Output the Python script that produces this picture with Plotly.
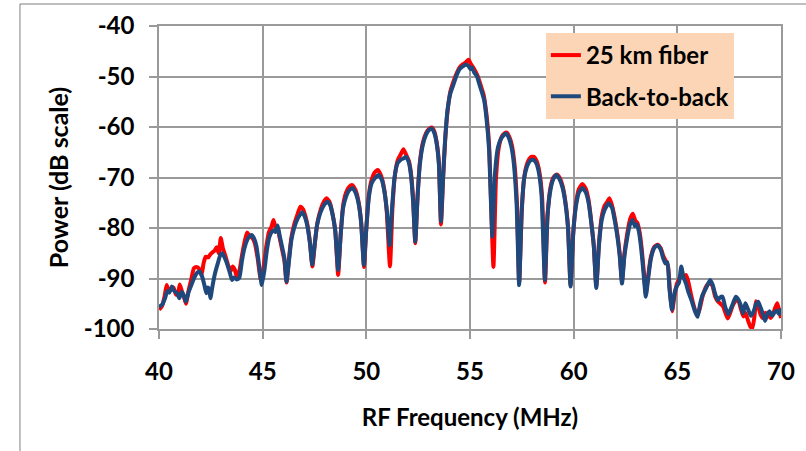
import plotly.graph_objects as go

# ---- data ----
freq_b2b = [40.00, 40.15, 40.30, 40.40, 40.50, 40.62, 40.72, 40.87, 40.98, 41.10, 41.20, 41.30, 41.42, 41.55, 41.70,
            41.85, 41.95, 42.08, 42.20, 42.28, 42.36, 42.42, 42.48, 42.58, 42.70, 42.85, 42.97, 43.05, 43.18, 43.30,
            43.42, 43.52, 43.62, 43.75, 43.87, 44.00, 44.12, 44.25, 44.38, 44.47, 44.58, 44.70, 44.80, 44.96, 45.08,
            45.20, 45.32, 45.45, 45.55, 45.62, 45.72, 45.82, 45.95, 46.05, 46.15, 46.27, 46.38, 46.52, 46.68, 46.80,
            46.92, 47.05, 47.15, 47.28, 47.39, 47.50, 47.62, 47.78, 47.95, 48.12, 48.25, 48.38, 48.50, 48.64, 48.76,
            48.88, 49.02, 49.18, 49.35, 49.50, 49.62, 49.75, 49.88, 50.00, 50.12, 50.25, 50.40, 50.60, 50.75, 50.88,
            51.00, 51.12, 51.24, 51.36, 51.50, 51.65, 51.80, 51.92, 52.05, 52.15, 52.26, 52.36, 52.47, 52.58, 52.72,
            52.88, 53.02, 53.15, 53.28, 53.40, 53.50, 53.60, 53.70, 53.80, 53.92, 54.05, 54.20, 54.35, 54.50, 54.65,
            54.80, 54.92, 55.02, 55.10, 55.20, 55.32, 55.45, 55.58, 55.68, 55.80, 55.92, 56.08, 56.20, 56.35, 56.50,
            56.65, 56.75, 56.88, 57.00, 57.12, 57.25, 57.37, 57.50, 57.62, 57.78, 57.92, 58.06, 58.20, 58.32, 58.45,
            58.61, 58.74, 58.88, 59.02, 59.16, 59.30, 59.45, 59.58, 59.72, 59.85, 59.98, 60.10, 60.25, 60.42, 60.58,
            60.72, 60.85, 60.97, 61.09, 61.22, 61.35, 61.50, 61.69, 61.85, 61.98, 62.10, 62.22, 62.33, 62.45, 62.58,
            62.70, 62.83, 62.95, 63.05, 63.15, 63.25, 63.36, 63.48, 63.60, 63.72, 63.88, 64.05, 64.20, 64.32, 64.42,
            64.52, 64.62, 64.74, 64.86, 64.98, 65.08, 65.19, 65.30, 65.42, 65.52, 65.68, 65.86, 65.98, 66.10, 66.22,
            66.40, 66.58, 66.70, 66.82, 66.95, 67.05, 67.18, 67.30, 67.45, 67.55, 67.68, 67.82, 67.95, 68.05, 68.17,
            68.28, 68.40, 68.55, 68.68, 68.80, 68.90, 69.02, 69.12, 69.23, 69.35, 69.45, 69.58, 69.70, 69.80, 69.90,
            70.00]
power_b2b = [-95.6, -95.2, -93.8, -92.5, -92.8, -91.6, -92.4, -92.9, -93.9, -92.6, -93.4, -94.6, -92.8, -91.4, -89.8,
             -88.8, -88.6, -89.6, -91.5, -92.9, -91.8, -92.2, -93.9, -91.5, -89.0, -86.8, -85.2, -85.0, -86.0, -87.3,
             -88.9, -90.3, -89.8, -90.2, -89.9, -86.5, -84.0, -82.4, -81.6, -81.4, -82.0, -83.6, -86.5, -91.3, -88.5,
             -84.5, -81.8, -80.7, -80.5, -80.8, -79.5, -81.5, -84.0, -86.0, -90.6, -86.5, -82.5, -80.0, -78.2, -77.4,
             -76.9, -78.0, -79.5, -83.0, -87.3, -83.5, -79.5, -77.0, -75.5, -74.8, -75.4, -77.5, -80.5, -88.3, -81.5,
             -76.0, -73.8, -72.5, -72.1, -73.2, -75.0, -79.0, -87.3, -80.0, -74.0, -71.2, -70.2, -69.5, -70.5, -73.0,
             -77.0, -83.4, -76.0, -70.0, -67.2, -66.5, -66.2, -65.9, -67.0, -69.5, -75.0, -82.7, -74.0, -67.5, -63.6,
             -61.5, -60.6, -60.3, -61.2, -63.5, -67.5, -78.7, -70.0, -62.5, -56.5, -53.4, -51.6, -49.8, -48.5, -48.0,
             -47.6, -47.9, -48.5, -48.2, -49.2, -49.8, -51.5, -53.2, -54.6, -58.5, -64.5, -81.7, -69.5, -64.0, -62.3,
             -61.5, -61.3, -62.2, -64.0, -67.5, -75.5, -91.3, -76.0, -70.0, -67.5, -66.6, -66.5, -67.2, -69.0, -73.5,
             -90.3, -77.5, -72.5, -70.3, -69.5, -70.2, -71.8, -74.5, -79.5, -91.6, -81.0, -76.0, -73.0, -72.1, -72.9,
             -75.0, -79.0, -83.5, -91.9, -83.5, -78.5, -76.3, -75.1, -76.0, -78.5, -81.5, -85.5, -91.0, -85.5, -82.0,
             -79.5, -78.4, -79.6, -79.3, -80.8, -83.8, -88.5, -93.6, -89.8, -86.2, -84.0, -83.4, -84.3, -86.0, -87.0,
             -86.8, -92.0, -96.2, -92.9, -91.5, -90.8, -87.6, -89.8, -91.0, -92.5, -94.3, -96.6, -97.6, -95.0, -93.2,
             -91.8, -90.3, -91.2, -93.0, -94.3, -93.8, -93.6, -95.5, -97.1, -96.3, -95.0, -93.6, -94.2, -95.2, -96.9,
             -94.9, -96.0, -97.4, -96.5, -95.0, -94.6, -95.8, -97.0, -98.4, -97.0, -96.5, -97.4, -96.6, -96.4, -97.0,
             -95.9]

freq_fiber = [40.00, 40.15, 40.27, 40.37, 40.48, 40.58, 40.70, 40.82, 40.92, 41.00, 41.10, 41.20, 41.30, 41.42, 41.55,
              41.68, 41.80, 41.92, 42.05, 42.15, 42.25, 42.38, 42.48, 42.58, 42.68, 42.78, 42.88, 42.98, 43.08, 43.20,
              43.32, 43.45, 43.55, 43.65, 43.77, 43.90, 44.02, 44.14, 44.25, 44.38, 44.50, 44.62, 44.75, 44.92, 45.05,
              45.18, 45.30, 45.42, 45.52, 45.62, 45.72, 45.82, 45.95, 46.05, 46.15, 46.27, 46.38, 46.52, 46.68, 46.82,
              46.95, 47.05, 47.15, 47.28, 47.40, 47.52, 47.64, 47.80, 47.95, 48.08, 48.22, 48.36, 48.50, 48.64, 48.76,
              48.88, 49.02, 49.18, 49.32, 49.48, 49.62, 49.75, 49.89, 50.00, 50.12, 50.25, 50.40, 50.55, 50.70, 50.85,
              50.98, 51.14, 51.26, 51.38, 51.52, 51.65, 51.79, 51.92, 52.05, 52.15, 52.26, 52.36, 52.47, 52.58, 52.72,
              52.88, 53.02, 53.15, 53.28, 53.40, 53.50, 53.60, 53.70, 53.80, 53.92, 54.05, 54.20, 54.35, 54.50, 54.65,
              54.80, 54.93, 55.05, 55.15, 55.25, 55.38, 55.52, 55.65, 55.78, 55.92, 56.13, 56.25, 56.38, 56.52, 56.65,
              56.78, 56.90, 57.02, 57.15, 57.27, 57.37, 57.50, 57.62, 57.78, 57.92, 58.08, 58.22, 58.35, 58.48, 58.62,
              58.74, 58.88, 59.02, 59.18, 59.32, 59.46, 59.60, 59.73, 59.85, 59.98, 60.10, 60.25, 60.42, 60.58, 60.72,
              60.85, 60.97, 61.09, 61.22, 61.35, 61.50, 61.62, 61.72, 61.85, 61.98, 62.10, 62.22, 62.33, 62.45, 62.58,
              62.72, 62.85, 62.97, 63.07, 63.18, 63.28, 63.38, 63.48, 63.60, 63.72, 63.88, 64.05, 64.20, 64.32, 64.45,
              64.55, 64.65, 64.75, 64.86, 64.98, 65.10, 65.22, 65.32, 65.42, 65.52, 65.65, 65.80, 65.95, 66.08, 66.22,
              66.40, 66.58, 66.70, 66.82, 66.95, 67.08, 67.20, 67.32, 67.43, 67.55, 67.68, 67.82, 67.95, 68.05, 68.18,
              68.28, 68.40, 68.52, 68.62, 68.72, 68.80, 68.90, 69.02, 69.12, 69.25, 69.38, 69.50, 69.62, 69.72, 69.82,
              69.92, 70.00]
power_fiber = [-96.2, -95.4, -93.5, -91.3, -92.6, -92.0, -91.8, -93.2, -93.0, -91.2, -92.5, -93.6, -95.0, -92.5, -90.3,
               -88.0, -87.7, -88.0, -89.3, -87.0, -85.7, -85.8, -85.2, -84.8, -84.5, -83.8, -85.0, -82.0, -84.0, -85.5,
               -87.2, -88.6, -87.6, -88.2, -89.8, -88.0, -85.0, -82.5, -80.9, -81.6, -82.0, -83.0, -85.8, -90.5, -87.5,
               -83.5, -80.8, -79.8, -78.4, -79.8, -80.0, -82.0, -84.5, -86.5, -90.8, -86.0, -82.0, -79.3, -77.3, -75.8,
               -76.3, -77.5, -79.2, -82.8, -87.6, -83.0, -79.0, -76.3, -74.8, -74.1, -74.8, -77.0, -80.5, -89.3, -81.5,
               -75.5, -73.0, -71.8, -71.5, -72.5, -74.7, -78.8, -87.7, -80.0, -73.5, -70.5, -69.0, -68.5, -69.5, -72.0,
               -76.5, -87.6, -76.0, -69.5, -66.5, -65.5, -64.4, -65.5, -66.7, -69.0, -74.5, -83.0, -73.8, -67.0, -63.2,
               -61.2, -60.4, -60.1, -60.9, -63.2, -67.0, -79.3, -70.5, -62.8, -56.8, -53.0, -51.0, -49.4, -48.2, -47.6,
               -47.2, -46.7, -47.6, -48.2, -48.9, -50.0, -51.8, -53.5, -57.0, -63.5, -87.7, -70.5, -64.3, -62.0, -61.3,
               -61.1, -62.0, -63.6, -67.5, -75.5, -91.0, -76.5, -69.8, -67.0, -66.0, -65.9, -66.8, -69.0, -74.0, -90.8,
               -77.5, -72.0, -70.0, -69.4, -70.0, -71.6, -74.7, -80.0, -91.3, -81.0, -75.5, -72.3, -71.3, -72.2, -74.5,
               -78.8, -83.5, -91.5, -83.0, -77.8, -75.5, -74.8, -74.1, -75.5, -78.0, -81.0, -85.0, -90.5, -85.0, -81.2,
               -78.3, -77.2, -78.5, -79.0, -80.8, -84.0, -88.5, -93.0, -89.2, -85.8, -83.8, -83.3, -84.0, -85.5, -86.6,
               -87.5, -93.0, -96.5, -93.5, -91.0, -90.0, -89.0, -89.8, -89.3, -90.5, -93.0, -95.5, -97.4, -96.0, -93.5,
               -91.5, -90.8, -91.5, -93.5, -94.5, -95.0, -95.5, -96.8, -97.9, -96.8, -95.3, -94.3, -94.5, -95.8, -97.5,
               -96.8, -98.2, -99.5, -99.8, -97.5, -94.5, -95.5, -97.2, -97.8, -96.8, -97.3, -97.8, -97.0, -95.8, -94.9,
               -96.5, -97.8]

x_ticks = [40, 45, 50, 55, 60, 65, 70]
y_ticks = [-100, -90, -80, -70, -60, -50, -40]

FONT = "Lato"
GRID = "#9a9a9a"

fig = go.Figure()
fig.add_trace(go.Scatter(x=freq_fiber, y=power_fiber, mode="lines", name="25 km fiber",
                         legendgroup="a",
                         line=dict(color="#ff0000", width=4, shape="spline", smoothing=0.5)))
fig.add_trace(go.Scatter(x=freq_b2b, y=power_b2b, mode="lines", name="Back-to-back",
                         legendgroup="b",
                         line=dict(color="#1f497d", width=4, shape="spline", smoothing=0.5)))

fig.update_layout(
    width=806, height=451,
    margin=dict(l=159, r=25, t=26, b=122),
    paper_bgcolor="white", plot_bgcolor="white",
    font=dict(family=FONT, size=24, color="black", weight="bold"),
    showlegend=True,
    legend=dict(x=0.622, y=0.977, xanchor="left", yanchor="top",
                bgcolor="#fbd5b5", borderwidth=0,
                font=dict(family=FONT, size=24, color="black", weight="bold"),
                tracegroupgap=7, itemwidth=30),
    shapes=[dict(type="rect", xref="paper", yref="paper",
                 x0=-0.2235, y0=-2, x1=3, y1=1.0726,
                 line=dict(color="#7f7f7f", width=1), fillcolor="rgba(0,0,0,0)", layer="below")],
)

fig.update_xaxes(range=[40, 70], tickvals=x_ticks, ticktext=[str(v) for v in x_ticks],
                 automargin=False,
                 showgrid=True, gridcolor=GRID, gridwidth=1.5,
                 showline=True, linecolor=GRID, linewidth=1.5, mirror=True,
                 ticks="outside", ticklen=8, tickcolor=GRID, tickwidth=1.5,
                 ticklabelstandoff=12, zeroline=False,
                 title=dict(text="RF Frequency (MHz)", standoff=26,
                            font=dict(family=FONT, size=24, weight="bold")))
fig.update_yaxes(range=[-100, -40], tickvals=y_ticks, ticktext=[str(v) for v in y_ticks],
                 automargin=False,
                 showgrid=True, gridcolor=GRID, gridwidth=1.5,
                 showline=True, linecolor=GRID, linewidth=1.5, mirror=True,
                 ticks="outside", ticklen=8, tickcolor=GRID, tickwidth=1.5,
                 ticklabelstandoff=10, zeroline=False,
                 title=dict(text="Power (dB scale)", standoff=8,
                            font=dict(family=FONT, size=25, weight="bold")))

fig.write_html("out.html", config={"displayModeBar": False},
               post_script="document.body.style.margin='0px';")
